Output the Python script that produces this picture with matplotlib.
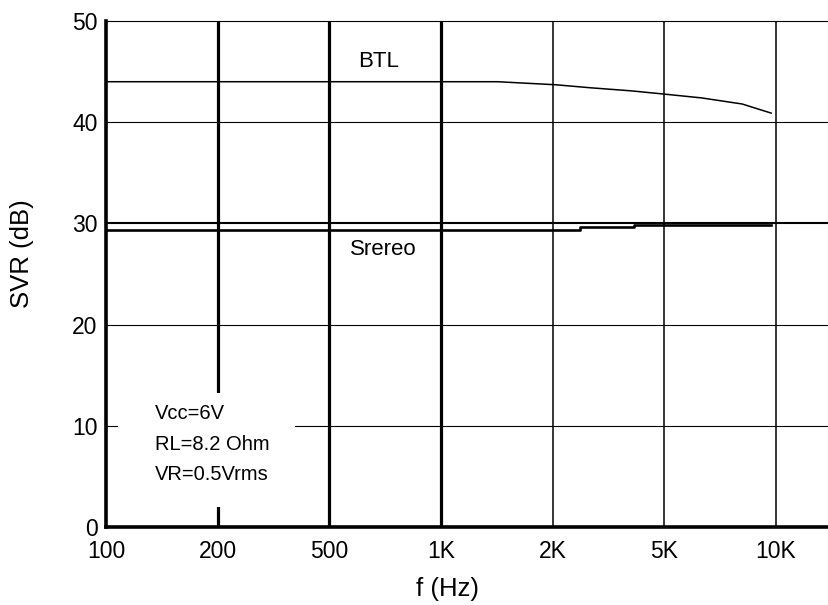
import numpy as np
import matplotlib
matplotlib.use("Agg")
import matplotlib.pyplot as plt
from matplotlib.patches import Rectangle

plt.rcParams['font.family'] = ['Liberation Sans', 'DejaVu Sans']

# tick frequencies (equally spaced on the chart)
tick_freqs = [100, 200, 500, 1000, 2000, 5000, 10000]
tick_labels = ['100', '200', '500', '1K', '2K', '5K', '10K']
y_ticks = [0, 10, 20, 30, 40, 50]

# BTL curve (Hz, dB)
btl_freq = [100, 1420, 2050, 2730, 3800, 4900, 6300, 8100, 9700]
btl_svr = [44.0, 44.0, 43.7, 43.4, 43.1, 42.8, 42.4, 41.8, 40.9]

# Stereo curve (Hz, dB)
st_freq = [100, 2500, 2500, 3900, 3900, 9700]
st_svr = [29.35, 29.35, 29.65, 29.65, 29.8, 29.8]


def fpos(f):
    # map frequency onto the chart's equally spaced tick positions
    return np.interp(np.log10(f), np.log10(tick_freqs), np.arange(len(tick_freqs)))


fig = plt.figure(figsize=(8.29, 6.05), dpi=100)
ax = fig.add_axes([106 / 829, 78 / 605, 723 / 829, 506 / 605])
ax.set_xlim(0, 723 / 111.67)
ax.set_ylim(0, 50)

# grid
for i in range(1, len(tick_freqs)):
    ax.axvline(i, color='black', lw=2.3 if i <= 3 else 1.1, zorder=1)
for v in y_ticks[1:-1]:
    ax.axhline(v, color='black', lw=1.5 if v == 30 else 0.8, zorder=1)

# white box behind the conditions text
ax.add_patch(Rectangle((0.11, 2.0), 1.58, 11.2, facecolor='white',
                       edgecolor='none', zorder=2))

ax.plot(fpos(btl_freq), btl_svr, color='black', lw=1.1, zorder=3)
ax.plot(fpos(st_freq), st_svr, color='black', lw=1.9, zorder=3)

ax.text(2.44, 46.0, 'BTL', fontsize=16, ha='center', va='center', zorder=4)
ax.text(2.48, 27.4, 'Srereo', fontsize=16, ha='center', va='center', zorder=4)
ax.text(0.44, 8.2, 'Vcc=6V\nRL=8.2 Ohm\nVR=0.5Vrms', fontsize=14.5,
        ha='left', va='center', linespacing=1.75, zorder=4)

ax.set_xticks(range(len(tick_freqs)))
ax.set_xticklabels(tick_labels)
ax.set_yticks(y_ticks)
ax.tick_params(length=0, labelsize=16.5)
ax.tick_params(axis='x', pad=9)
ax.tick_params(axis='y', pad=6)

ax.spines['right'].set_visible(False)
ax.spines['top'].set_linewidth(0.8)
ax.spines['left'].set_linewidth(2.6)
ax.spines['bottom'].set_linewidth(2.6)

ax.set_xlabel('f (Hz)', fontsize=18.5)
ax.set_ylabel('SVR (dB)', fontsize=18.5)
ax.xaxis.set_label_coords(0.472, -0.099)
ax.yaxis.set_label_coords(-0.116, 0.54)
ax.yaxis.label.set_va('center')

fig.savefig('out.png', dpi=100)
